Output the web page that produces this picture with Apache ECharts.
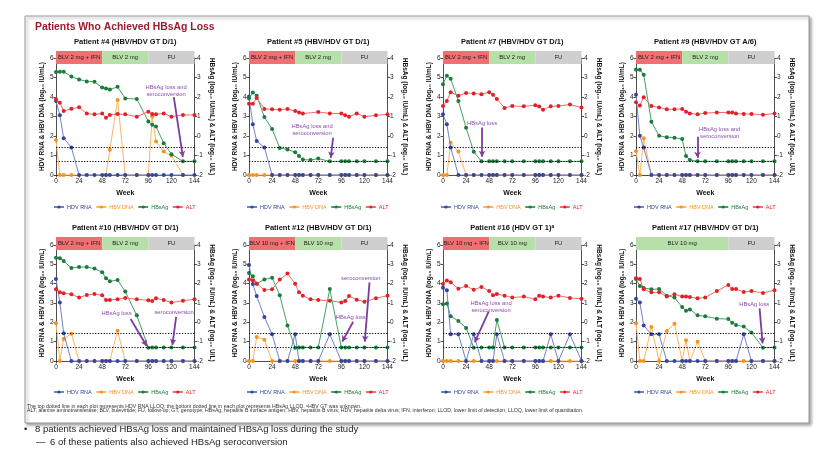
<!DOCTYPE html>
<html><head><meta charset="utf-8">
<script src="https://cdn.jsdelivr.net/npm/echarts@6/dist/echarts.min.js"></script>
<style>html,body{margin:0;padding:0;background:#fff}#c{width:830px;height:473px}</style>
</head><body><div id="c"></div>
<script>
// ---------------- DATA ----------------
const WEEKS = [0,4,8,16,24,32,40,48,52,56,64,72,84,96,100,104,112,120,132,144];
const WEEK_TICKS = [0,24,48,72,96,120,144];
const SERIES_NAMES = ['HDV RNA','HBV DNA','HBsAg','ALT'];
const HDV_LLOQ = 1.42;      // left axis, log10 IU/mL
const HBSAG_LLOD = -1.3;    // right axis, log10 IU/mL

const PH_2IFN = [['BLV 2 mg + IFN',0,48,'combo'],['BLV 2 mg',48,96,'mono'],['FU',96,144,'fu']];
const PH_10IFN = [['BLV 10 mg + IFN',0,48,'combo'],['BLV 10 mg',48,96,'mono'],['FU',96,144,'fu']];
const PH_10 = [['BLV 10 mg',0,96,'mono'],['FU',96,144,'fu']];

const TITLES = ['Patient #4 (HBV/HDV GT D/1)','Patient #5 (HBV/HDV GT D/1)','Patient #7 (HBV/HDV GT D/1)','Patient #9 (HBV/HDV GT A/6)',
                'Patient #10 (HBV/HDV GT D/1)','Patient #12 (HBV/HDV GT D/1)','Patient #16 (HDV GT 1)\u1D43','Patient #17 (HBV/HDV GT D/1)'];

// Patient #4
const P04_HDV = [3.8,3.06,1.89,1.41,0,0,0,0,0,0,0,0,0,0,0,0,0,0,0,0];
const P04_HBV = [1.79,0,0,0,null,null,null,null,0,1.3,3.85,0,0,0,3.0,1.72,1.2,1.0,0,null];
const P04_HBSAG = [3.28,3.3,3.3,3.05,2.9,2.8,2.78,2.49,2.44,2.38,2.52,1.92,1.9,0.75,0.58,0.49,-0.37,-0.93,-1.3,-1.3];
const P04_ALT = [1.88,1.71,1.28,1.4,1.47,1.15,1.11,1.15,0.94,1.08,1.13,1.11,0.99,1.25,1.13,1.11,1.16,0.99,1.08,1.08];
// Patient #5
const P05_HDV = [4.02,2.6,1.74,1.41,0,0,0,0,0,0,0,0,0,0,0,0,0,0,0,0];
const P05_HBV = [0,0,0,0,0,0,0,0,0,0,0,0,0,0,0,0,0,0,0,0];
const P05_HBSAG = [1.92,2.23,2.07,0.97,0.36,-0.61,-0.69,-0.83,-1.02,-1.21,-1.23,-1.16,-1.3,-1.3,-1.3,-1.3,-1.3,-1.3,-1.3,-1.3];
const P05_ALT = [1.66,1.66,1.95,1.39,1.37,1.35,1.39,1.28,1.2,1.15,null,1.23,1.16,1.15,1.06,0.99,1.16,0.99,1.06,1.11];
// Patient #7
const P07_HDV = [3.11,2.6,1.41,0,0,0,0,0,0,0,0,0,0,0,0,0,0,0,0,0];
const P07_HBV = [0,0,1.65,1.2,0,0,0,0,0,0,0,0,0,0,0,0,0,0,0,0];
const P07_HBSAG = [2.66,3.09,2.93,1.8,0.42,-0.81,-1.3,-1.3,-1.3,-1.3,-1.3,-1.3,-1.3,-1.3,-1.3,-1.3,-1.3,-1.3,-1.3,-1.3];
const P07_ALT = [1.54,1.8,2.25,2.06,2.21,2.18,2.14,2.25,2.11,1.9,1.44,1.54,1.52,1.58,1.51,1.35,1.52,1.54,1.61,1.46];
// Patient #9
const P09_HDV = [4.11,2.01,1.41,0,0,0,0,0,0,0,0,0,0,0,0,0,0,0,0,0];
const P09_HBV = [1.22,0,1.89,0,0,0,0,0,0,0,0,0,0,0,0,0,0,0,0,0];
const P09_HBSAG = [3.4,3.4,3.14,0.73,0.01,-0.06,-0.09,-0.16,-1.02,-1.23,-1.3,-1.3,-1.3,-1.3,-1.3,-1.3,-1.3,-1.3,-1.3,-1.3];
const P09_ALT = [1.73,1.56,1.99,1.54,1.46,1.37,1.37,1.39,1.25,1.16,1.11,1.18,1.2,1.21,1.2,1.15,1.13,1.13,1.09,1.15];
// Patient #10
const P10_HDV = [4.24,3.02,1.43,0,0,0,0,0,0,0,0,0,0,0,0,0,0,0,0,0];
const P10_HBV = [1.95,0,1.14,1.41,0,0,0,0,0,0,1.57,0,0,0,0,0,0,0,0,0];
const P10_HBSAG = [3.34,3.31,3.17,2.81,2.86,2.86,2.78,2.59,2.28,2.12,2.19,1.59,0.36,-1.31,-1.3,-1.3,-1.3,-1.3,-1.3,-1.3];
const P10_ALT = [1.71,1.55,1.5,1.45,1.28,1.41,1.47,1.4,1.16,1.16,1.19,1.26,1.19,1.14,1.1,1.24,1.16,1.02,1.12,1.19];
// Patient #12
const P12_HDV = [4.97,3.98,3.36,2.28,1.38,0,0,1.38,0,0,0,0,1.38,0,0,0,0,0,0,0];
const P12_HBV = [0,0,1.24,1.1,0,0,0,0,0,0,0,0,0,0,0,0,0,0,0,0];
const P12_HBSAG = [2.55,2.38,2.0,2.21,2.31,1.4,-0.17,-1.31,-1.3,-1.3,-1.3,-1.3,1.72,-1.3,-1.3,-1.3,-1.3,-1.3,-1.3,-1.3];
const P12_ALT = [2.21,2.17,2.0,1.67,1.71,2.21,2.52,2.0,1.55,1.38,1.19,1.16,1.12,1.03,1.1,1.36,1.17,1.07,1.24,1.38];
// Patient #16
const P16_HDV = [3.79,3.66,1.38,1.38,0,1.38,0,0,0,1.38,0,0,0,0,0,0,1.38,0,1.38,0];
const P16_HBV = [0,0,0,0,0,0,0,0,0,0,0,0,0,0,0,0,0,0,0,0];
const P16_HBSAG = [0.93,0.97,0.31,0.07,-0.29,-1.31,-1.3,-1.3,-1.3,0.12,-1.3,-1.3,-1.3,-1.3,-1.3,-1.3,-1.3,-1.3,-1.3,-1.3];
const P16_ALT = [1.98,2.17,2.07,1.74,1.88,1.69,1.83,1.62,1.4,1.47,1.38,1.28,1.33,1.19,1.38,1.33,1.28,1.38,1.26,1.22];
// Patient #17
const P17_HDV = [3.22,3.03,1.84,1.38,1.38,0,0,0,0,0,0,0,0,0,0,0,1.38,0,0,0];
const P17_HBV = [1.95,0,0,1.76,0,1.55,1.93,0,1.07,0,1.0,0,0,0,0,0,0,0,0,0];
const P17_HBSAG = [2.24,1.88,1.78,1.71,1.72,1.38,1.28,0.79,0.6,0.67,0.36,0.31,0.19,0.17,-0.02,-0.14,-0.22,-0.53,-1.31,-1.3];
const P17_ALT = [2.28,2.24,1.71,1.55,1.55,1.33,1.45,1.33,1.33,1.31,1.24,1.29,1.62,1.93,1.72,1.72,1.57,1.62,1.52,1.66];

// Annotations (data coordinates: week, right-axis log10 value)
const P04_NOTES = [{text:'HBsAg loss and\nseroconversion', at:[114.5,2.3], from:[122.5,1.99], to:[131.9,-1.07]}];
const P05_NOTES = [{text:'HBsAg loss and\nseroconversion', at:[65.6,0.3], from:[87.4,-0.09], to:[85,-1.12]}];
const P07_NOTES = [{text:'HBsAg loss', at:[40.6,0.65], from:[40.6,0.44], to:[40.6,-1.07]}];
const P09_NOTES = [{text:'HBsAg loss and\nseroconversion', at:[87,0.17], from:[63.9,-0.04], to:[63.9,-1.11]}];
const P10_NOTES = [{text:'HBsAg loss', at:[63,0.47], from:[77.6,0.17], to:[94.3,-1.22]},
                   {text:'seroconversion', at:[122.8,0.5], from:[124.9,0.28], to:[121,-1.17]}];
const P12_NOTES = [{text:'seroconversion', at:[116.2,2.28], from:[125.3,2.07], to:[120.4,-1.0]},
                   {text:'HBsAg loss', at:[105.8,0.24], from:[108.3,0.03], to:[96.9,-1.0]}];
const P16_NOTES = [{text:'HBsAg loss and\nseroconversion', at:[50,0.81], from:[47.5,0.55], to:[33,-1.03]}];
const P17_NOTES = [{text:'HBsAg loss', at:[122.9,0.95], from:[128.5,0.72], to:[131.6,-1.09]}];

const FOOT1 = 'The top dotted line in each plot represents HDV RNA LLOQ; the bottom dotted line in each plot represents HBsAg LLOD. \u1D43HBV GT was unknown.';
const FOOT2 = 'ALT, alanine aminotransferase; BLV, bulevirtide; FU, follow-up; GT, genotype; HBsAg, hepatitis B surface antigen; HBV, hepatitis B virus; HDV, hepatitis delta virus; IFN, interferon; LLOD, lower limit of detection; LLOQ, lower limit of quantitation.';
const BULLET1 = '8 patients achieved HBsAg loss and maintained HBsAg loss during the study';
const BULLET2 = '6 of these patients also achieved HBsAg seroconversion';

// ---------------- STYLE / LAYOUT ----------------
const FONT = '"Liberation Sans", Arial, Helvetica, sans-serif';
const COLORS = {
  'HDV RNA': {dot:'#34469e', line:'#7282c8'},
  'HBV DNA': {dot:'#f7931e', line:'#fbb565'},
  'HBsAg':   {dot:'#1d7a3c', line:'#44a063'},
  'ALT':     {dot:'#e3202a', line:'#f06b6b'}
};
const PHASE_FILL = {combo:'#ef6f73', mono:'#b6dfaa', fu:'#cfcfcf'};
const PURPLE = '#7d3d99';
const COL_LEFT = [56,249,443,636];
const ROW_TOP = [58,245];
const PLOT_H = [117,116];
const PLOT_W = 138.5;
const PHASE_TOP = [51,237];
const PHASE_H = 13;
const TITLE_Y = [42,228];
const LEGEND_TOP = [204,389];

const panels = [
  {hdv:P04_HDV,hbv:P04_HBV,hbsag:P04_HBSAG,alt:P04_ALT,ph:PH_2IFN,notes:P04_NOTES},
  {hdv:P05_HDV,hbv:P05_HBV,hbsag:P05_HBSAG,alt:P05_ALT,ph:PH_2IFN,notes:P05_NOTES},
  {hdv:P07_HDV,hbv:P07_HBV,hbsag:P07_HBSAG,alt:P07_ALT,ph:PH_2IFN,notes:P07_NOTES},
  {hdv:P09_HDV,hbv:P09_HBV,hbsag:P09_HBSAG,alt:P09_ALT,ph:PH_2IFN,notes:P09_NOTES},
  {hdv:P10_HDV,hbv:P10_HBV,hbsag:P10_HBSAG,alt:P10_ALT,ph:PH_2IFN,notes:P10_NOTES},
  {hdv:P12_HDV,hbv:P12_HBV,hbsag:P12_HBSAG,alt:P12_ALT,ph:PH_10IFN,notes:P12_NOTES},
  {hdv:P16_HDV,hbv:P16_HBV,hbsag:P16_HBSAG,alt:P16_ALT,ph:PH_10IFN,notes:P16_NOTES},
  {hdv:P17_HDV,hbv:P17_HBV,hbsag:P17_HBSAG,alt:P17_ALT,ph:PH_10,notes:P17_NOTES}
];

const pairs = vals => WEEKS.map((w,i)=>[w, vals[i]]).filter(d=>d[1]!==null && d[1]!==undefined);

const axisBase = () => ({
  axisLine:{show:true, onZero:false, lineStyle:{color:'#222', width:0.8}},
  axisTick:{show:true, length:2.5, lineStyle:{color:'#222', width:0.8}},
  axisLabel:{fontSize:6.5, color:'#222', margin:2.5, fontFamily:FONT},
  splitLine:{show:false}
});

const grid=[], xAxis=[], yAxis=[], series=[], legend=[], graphic=[];

graphic.push({type:'rect', z:-100, shape:{x:25, y:16, width:784, height:407},
  style:{fill:'#fff', stroke:'#9a9a9a', lineWidth:1, shadowBlur:3, shadowOffsetX:2, shadowOffsetY:2, shadowColor:'rgba(0,0,0,0.35)'}});
graphic.push({type:'text', x:35, y:27, style:{text:'Patients Who Achieved HBsAg Loss', font:'bold 10.4px '+FONT, fill:'#9b1c31', textVerticalAlign:'middle', verticalAlign:'middle'}});

function lineSeries(name, xi, yi, data, z){
  return {type:'line', name, xAxisIndex:xi, yAxisIndex:yi, data:pairs(data), z,
    symbol:'circle', symbolSize:4, showSymbol:true, clip:false, animation:false,
    lineStyle:{color:COLORS[name].line, width:1},
    itemStyle:{color:COLORS[name].dot},
    emphasis:{disabled:true}};
}

panels.forEach((p,i)=>{
  const row = Math.floor(i/4), col = i%4;
  const L = COL_LEFT[col], T = ROW_TOP[row], H = PLOT_H[row];
  const gi = grid.length, xi = xAxis.length, yi = yAxis.length;
  grid.push({left:L, top:T, width:PLOT_W, height:H, outerBoundsMode:'none'});
  grid.push({left:L, top:PHASE_TOP[row], width:PLOT_W, height:PHASE_H, outerBoundsMode:'none'});

  xAxis.push(Object.assign(axisBase(), {gridIndex:gi, type:'value', min:WEEK_TICKS[0], max:WEEK_TICKS[WEEK_TICKS.length-1], interval:24,
    name:'Week', nameLocation:'middle', nameGap:15,
    nameTextStyle:{fontSize:7, fontWeight:'bold', color:'#111', fontFamily:FONT}}));
  xAxis.push({gridIndex:gi+1, type:'value', min:0, max:144, show:false});

  yAxis.push(Object.assign(axisBase(), {gridIndex:gi, type:'value', min:0, max:6, interval:1, position:'left',
    name:'HDV RNA & HBV DNA (log\u2081\u2080 IU/mL)', nameLocation:'middle', nameGap:10, nameRotate:90,
    nameTextStyle:{fontSize:6.5, fontWeight:'bold', color:'#111', fontFamily:FONT}}));
  yAxis.push(Object.assign(axisBase(), {gridIndex:gi, type:'value', min:-2, max:4, interval:1, position:'right',
    name:'HBsAg (log\u2081\u2080 IU/mL) & ALT (log\u2081\u2080 U/L)', nameLocation:'middle', nameGap:14, nameRotate:-90,
    nameTextStyle:{fontSize:6.5, fontWeight:'bold', color:'#111', fontFamily:FONT}}));
  yAxis.push({gridIndex:gi+1, type:'value', min:0, max:1, show:false});

  // phase bar
  series.push({type:'custom', xAxisIndex:xi+1, yAxisIndex:yi+2, silent:true, animation:false,
    data:p.ph.map(ph=>[ph[1], ph[2]]),
    renderItem:(params, api)=>{
      const ph = p.ph[params.dataIndex];
      const a = api.coord([api.value(0), 1]);
      const b = api.coord([api.value(1), 0]);
      return {type:'rect', shape:{x:a[0], y:a[1], width:b[0]-a[0], height:b[1]-a[1]},
        style:{fill:PHASE_FILL[ph[3]]},
        textContent:{style:{text:ph[0], fill:'#222', font:'6px '+FONT}},
        textConfig:{position:'inside'}};
    }});

  const hbv = lineSeries('HBV DNA', xi, yi, p.hbv, 2);
  const hdv = lineSeries('HDV RNA', xi, yi, p.hdv, 3);
  hdv.markLine = {silent:true, symbol:['none','none'], animation:false, label:{show:false},
    lineStyle:{color:'#000', type:[1.2,1.6], width:1.1},
    emphasis:{disabled:true},
    data:[{yAxis:HDV_LLOQ},{yAxis:HBSAG_LLOD+2}]};
  const hbs = lineSeries('HBsAg', xi, yi+1, p.hbsag, 4);
  hbs.markLine = {silent:true, symbol:['none','arrow'], symbolSize:[5,6], animation:false, label:{show:false},
    lineStyle:{color:PURPLE, type:'solid', width:1.8}, emphasis:{disabled:true},
    data:p.notes.map(n=>[{coord:n.from},{coord:n.to}])};
  hbs.markPoint = {silent:true, symbol:'circle', symbolSize:0, animation:false,
    itemStyle:{color:'rgba(0,0,0,0)'},
    label:{show:true, position:'inside', color:'#8a4ea8', fontSize:5.8, lineHeight:7, fontFamily:FONT, formatter:'{b}'},
    data:p.notes.map(n=>({name:n.text, coord:n.at}))};
  const alt = lineSeries('ALT', xi, yi+1, p.alt, 4);
  series.push(hbv, hdv, hbs, alt);

  legend.push({top:LEGEND_TOP[row], left:L-3, padding:0, itemWidth:10, itemHeight:4, itemGap:3.5, selectedMode:false,
    textStyle:{fontSize:5.5, fontFamily:FONT, padding:[0,0,0,-2]},
    data:SERIES_NAMES.map(n=>({name:n, textStyle:{color:COLORS[n].dot}}))});

  graphic.push({type:'text', x:L+PLOT_W/2, y:TITLE_Y[row],
    style:{text:TITLES[i], font:'bold 7.5px '+FONT, fill:'#111', textAlign:'center', align:'center', textVerticalAlign:'middle', verticalAlign:'middle'}});
});

graphic.push({type:'text', x:27, y:406.5, style:{text:FOOT1, font:'5.2px '+FONT, fill:'#333', textVerticalAlign:'middle', verticalAlign:'middle'}});
graphic.push({type:'text', x:27, y:411, style:{text:FOOT2, font:'5.2px '+FONT, fill:'#333', textVerticalAlign:'middle', verticalAlign:'middle'}});
graphic.push({type:'text', x:24, y:429, style:{text:'\u2022', font:'9.5px '+FONT, fill:'#222', textVerticalAlign:'middle', verticalAlign:'middle'}});
graphic.push({type:'text', x:35, y:429, style:{text:BULLET1, font:'9.5px '+FONT, fill:'#222', textVerticalAlign:'middle', verticalAlign:'middle'}});
graphic.push({type:'text', x:36, y:442, style:{text:'\u2014', font:'9.5px '+FONT, fill:'#222', textVerticalAlign:'middle', verticalAlign:'middle'}});
graphic.push({type:'text', x:50, y:442, style:{text:BULLET2, font:'9.5px '+FONT, fill:'#222', textVerticalAlign:'middle', verticalAlign:'middle'}});

const chart = echarts.init(document.getElementById('c'), null, {renderer:'canvas'});
chart.setOption({
  animation:false,
  backgroundColor:'#fff',
  textStyle:{fontFamily:FONT},
  grid, xAxis, yAxis, series, legend, graphic,
  tooltip:{show:false}
});
</script>
</body></html>
